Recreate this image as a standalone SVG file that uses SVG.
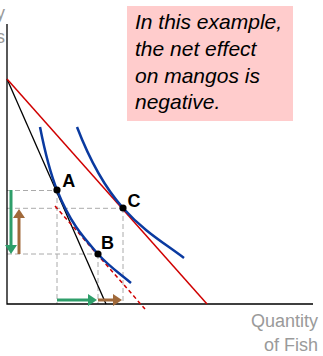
<svg xmlns="http://www.w3.org/2000/svg" width="323" height="356" viewBox="0 0 323 356">
<style>
.axis{stroke:#000;stroke-width:1.3;fill:none}
.grid{stroke:#aaaaaa;stroke-width:1;stroke-dasharray:5,3;fill:none}
.ic{stroke:#0a3aa0;stroke-width:2.5;fill:none}
.red{stroke:#d00000;stroke-width:1.5;fill:none}
.lbl{font-family:"Liberation Sans",Arial,sans-serif;font-weight:bold;font-size:18px;fill:#000}
.ax{font-family:"Liberation Sans",Arial,sans-serif;font-size:18px;fill:#9a9a9a;text-anchor:end}
.note{font-family:"Liberation Sans",Arial,sans-serif;font-style:italic;font-size:21px;fill:#000}
.g{stroke:#2e9e6a;stroke-width:3;fill:none}
.b{stroke:#a0693a;stroke-width:3;fill:none}
</style>
<rect x="0" y="0" width="323" height="356" fill="#fff"/>
<g id="note">
<rect x="127" y="6" width="166" height="115" fill="#ffcccc"/>
<text class="note" x="135" y="29">In this example,</text>
<text class="note" x="135" y="56">the net effect</text>
<text class="note" x="135" y="83">on mangos is</text>
<text class="note" x="135" y="109">negative.</text>
</g>
<g id="axes">
<text class="ax" x="5" y="19">Quantity</text>
<text class="ax" x="5" y="43">of Mangos</text>
<text class="ax" x="318" y="327">Quantity</text>
<text class="ax" x="318" y="351">of Fish</text>
</g>
<g id="connectors">
<path class="grid" d="M7,190.5H57 M7,208.3H123 M7,254H98 M57,190V304 M98,254V304 M123,208V304"/>
<path class="axis" d="M7,24V304H313"/>
<path stroke="#000" stroke-width="1.3" fill="none" d="M7,79L106,304"/>
<path class="red" d="M7,79L207,304"/>
<path class="red" stroke-dasharray="4,3" d="M55,206L145,309"/>
<path class="g" d="M11,190V246"/>
<polygon fill="#2e9e6a" points="5,245 17,245 11,254"/>
<path class="b" d="M19,254V217"/>
<polygon fill="#a0693a" points="13,218 25,218 19,209"/>
<path class="g" d="M57,300H89"/>
<polygon fill="#2e9e6a" points="88,294 88,306 97,300"/>
<path class="b" d="M98,300H114"/>
<polygon fill="#a0693a" points="113,294 113,306 122,300"/>
</g>
<g id="ic1">
<path class="ic" d="M40,127C45.67,155.6 51.33,175.8 57,190C70.67,224.2 84.33,238.4 98,254C109,266.5 120,273.6 131,283"/>
</g>
<g id="ic2">
<path class="ic" d="M77,127C92.33,166.9 107.67,190.75 123,208C143.33,230.9 163.67,242.75 184,258"/>
</g>
<g id="A">
<circle cx="57" cy="190" r="3.6" fill="#000"/>
<text class="lbl" x="62.3" y="186.8">A</text>
</g>
<g id="B">
<circle cx="98" cy="254" r="3.6" fill="#000"/>
<text class="lbl" x="101" y="249.3">B</text>
</g>
<g id="C">
<circle cx="123" cy="208" r="3.6" fill="#000"/>
<text class="lbl" x="127.5" y="206.8">C</text>
</g>
</svg>
